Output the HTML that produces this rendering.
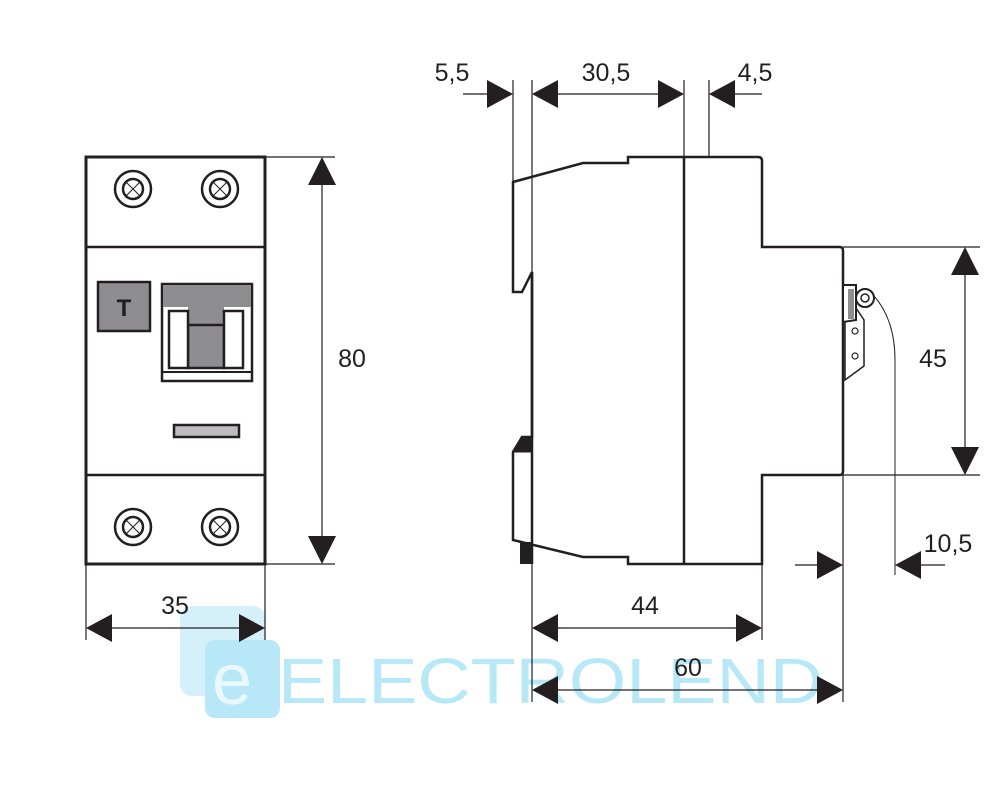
<!DOCTYPE html>
<html><head><style>html,body{margin:0;padding:0;background:#fff}svg{display:block}</style></head>
<body>
<svg width="1000" height="800" viewBox="0 0 1000 800" xmlns="http://www.w3.org/2000/svg" font-family="Liberation Sans, sans-serif">
<!-- watermark -->
<rect x="180" y="606" width="85" height="90" rx="12" fill="#d4f0fb"/>
<rect x="205" y="640" width="75" height="78" rx="10" fill="#b8e8f8"/>
<text x="212" y="704" font-size="72" fill="#e8f8fd">e</text>
<text x="278" y="703" font-size="64" fill="#b6e8f8" textLength="545" lengthAdjust="spacingAndGlyphs">ELECTROLEND</text>

<g stroke="#231f20" fill="none">
<!-- front view -->
<rect x="86" y="157" width="179" height="407" stroke-width="3"/>
<line x1="86" y1="247" x2="265" y2="247" stroke-width="2.5"/>
<line x1="86" y1="475" x2="265" y2="475" stroke-width="2.5"/>
<g stroke-width="2.5">
<circle cx="133" cy="189" r="18"/><circle cx="133" cy="189" r="10"/>
<circle cx="220" cy="189" r="18"/><circle cx="220" cy="189" r="10"/>
<circle cx="133" cy="527" r="18"/><circle cx="133" cy="527" r="10"/>
<circle cx="220" cy="527" r="18"/><circle cx="220" cy="527" r="10"/>
</g>
<g stroke-width="1">
<path d="M126 182 L140 196 M140 182 L126 196 M213 182 L227 196 M227 182 L213 196 M126 520 L140 534 M140 520 L126 534 M213 520 L227 534 M227 520 L213 534"/>
</g>
<rect x="98" y="282" width="52" height="49" fill="#8e8e90" stroke-width="2.5"/>
<rect x="162" y="284" width="90" height="97" fill="#fff" stroke-width="2.5"/>
<rect x="163" y="285" width="88" height="22" fill="#8e8e90" stroke="none"/>
<rect x="188" y="307" width="36" height="20" fill="#8e8e90" stroke="none"/>
<rect x="188" y="325" width="36" height="43" fill="#8e8e90" stroke-width="2.5"/>
<rect x="169" y="311" width="19" height="57" fill="#fff" stroke-width="2.5"/>
<rect x="224" y="311" width="19" height="57" fill="#fff" stroke-width="2.5"/>
<line x1="162" y1="372" x2="252" y2="372" stroke-width="2"/>
<rect x="174" y="425" width="65" height="12" fill="#bdbdbf" stroke-width="2.5"/>

<!-- side view -->
<path d="M513 182 L583 163 L628 163 L628 157 L758 157 Q762 157 762 161 L762 247 L840 247 Q843 247 843 251 L843 471 Q843 475 840 475 L762 475 L762 564 L628 564 L628 557 L583 557 L513 540 L513 452 L522 437 L532 437 L532 272 L522 292 L513 292 Z" stroke-width="2.5" fill="#fff"/>
<line x1="532" y1="272" x2="532" y2="564" stroke-width="2.5"/>
<line x1="684" y1="157" x2="684" y2="564" stroke-width="2.5"/>
<path d="M513 452 L532 452 L532 437 L522 437 Z" fill="#231f20" stroke-width="1"/>
<rect x="520" y="542" width="12" height="22" fill="#231f20" stroke="none"/>
<!-- terminal -->
<path d="M843 285 L856 285 L856 320 L843 322 Z" fill="#fff" stroke-width="2"/>
<rect x="848" y="289" width="6" height="30" fill="#8e8e90" stroke="none"/>
<circle cx="865" cy="298" r="9" fill="#fff" stroke-width="2"/>
<circle cx="865" cy="298" r="4" stroke-width="1.5"/>
<path d="M856 308 L864 320 L864 366 L845 380 L845 322" stroke-width="1.5"/>
<circle cx="855" cy="331" r="3" stroke-width="1.2"/>
<circle cx="855" cy="356" r="3" stroke-width="1.2"/>
<path d="M874 296 Q895 320 895 360 L895 575" stroke-width="1"/>
</g>

<!-- dimension lines -->
<g stroke="#231f20" stroke-width="1.2" fill="none">
<line x1="265" y1="157" x2="335" y2="157"/>
<line x1="265" y1="564" x2="335" y2="564"/>
<line x1="322" y1="180" x2="322" y2="540"/>
<line x1="86" y1="564" x2="86" y2="640"/>
<line x1="265" y1="564" x2="265" y2="640"/>
<line x1="110" y1="628" x2="240" y2="628"/>
<line x1="513" y1="80" x2="513" y2="182"/>
<line x1="532" y1="80" x2="532" y2="702"/>
<line x1="684" y1="80" x2="684" y2="157"/>
<line x1="709" y1="80" x2="709" y2="157"/>
<line x1="762" y1="564" x2="762" y2="640"/>
<line x1="843" y1="475" x2="843" y2="702"/>
<line x1="843" y1="247" x2="980" y2="247"/>
<line x1="843" y1="475" x2="980" y2="475"/>
<line x1="965" y1="270" x2="965" y2="452"/>
<line x1="463" y1="94" x2="490" y2="94"/>
<line x1="555" y1="94" x2="660" y2="94"/>
<line x1="732" y1="94" x2="762" y2="94"/>
<line x1="555" y1="628" x2="740" y2="628"/>
<line x1="555" y1="690" x2="820" y2="690"/>
<line x1="795" y1="565" x2="820" y2="565"/>
<line x1="918" y1="565" x2="945" y2="565"/>
</g>
<g fill="#231f20">
<polygon points="322,157 308,185 336,185"/>
<polygon points="322,564 308,536 336,536"/>
<polygon points="965,247 951,275 979,275"/>
<polygon points="965,475 951,447 979,447"/>
<polygon points="86,628 112,614 112,642"/>
<polygon points="265,628 239,614 239,642"/>
<polygon points="513,94 487,80 487,108"/>
<polygon points="532,94 558,80 558,108"/>
<polygon points="684,94 658,80 658,108"/>
<polygon points="709,94 735,80 735,108"/>
<polygon points="532,628 558,614 558,642"/>
<polygon points="762,628 736,614 736,642"/>
<polygon points="532,690 558,676 558,704"/>
<polygon points="843,690 817,676 817,704"/>
<polygon points="843,565 817,551 817,579"/>
<polygon points="895,565 921,551 921,579"/>
</g>
<g font-size="25" fill="#231f20" text-anchor="middle">
<text x="124" y="316" font-weight="bold" font-size="24">T</text>
<text x="352" y="367">80</text>
<text x="933" y="367">45</text>
<text x="175" y="614">35</text>
<text x="645" y="614">44</text>
<text x="688" y="676">60</text>
<text x="452" y="81">5,5</text>
<text x="606" y="81">30,5</text>
<text x="755" y="81">4,5</text>
<text x="948" y="552">10,5</text>
</g>
</svg>
</body></html>
